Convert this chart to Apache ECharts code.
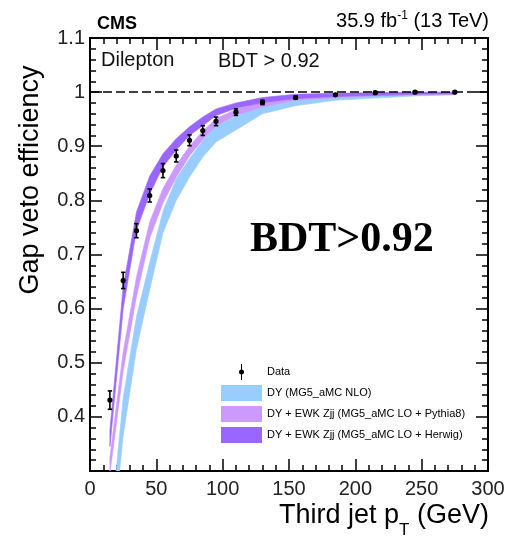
<!DOCTYPE html>
<html><head><meta charset="utf-8">
<script src="https://cdn.jsdelivr.net/npm/echarts@6/dist/echarts.min.js"></script>
<style>html,body{margin:0;padding:0;background:#fff}#c{width:508px;height:543px}</style>
</head><body><div id="c"></div>
<script>
// ---- data ----
const binCenters = [15, 25, 35, 45, 55, 65, 75, 85, 95, 110, 130, 155, 185, 215, 245, 275];
const dataEff = [0.431, 0.652, 0.744, 0.809, 0.855, 0.882, 0.911, 0.929, 0.946, 0.963, 0.981, 0.990, 0.995, 0.999, 1.000, 1.000];
const dataErr = [0.017, 0.015, 0.013, 0.012, 0.013, 0.011, 0.010, 0.009, 0.008, 0.006, 0.004, 0.003, 0.002, 0.002, 0.002, 0.002];
const dyNloLow  = [0.12, 0.365, 0.525, 0.635, 0.740, 0.800, 0.843, 0.880, 0.908, 0.930, 0.960, 0.975, 0.985, 0.989, 0.993, 0.995];
const dyNloHigh = [0.18, 0.435, 0.585, 0.685, 0.780, 0.840, 0.877, 0.910, 0.938, 0.955, 0.977, 0.988, 0.992, 0.995, 0.997, 0.999];
const pythiaLow  = [0.295, 0.485, 0.622, 0.730, 0.795, 0.843, 0.882, 0.912, 0.938, 0.957, 0.973, 0.985, 0.990, 0.993, 0.995, 0.996];
const pythiaHigh = [0.325, 0.520, 0.658, 0.760, 0.822, 0.865, 0.900, 0.928, 0.951, 0.968, 0.983, 0.993, 0.996, 0.998, 0.999, 0.999];
const herwigLow  = [0.345, 0.600, 0.745, 0.812, 0.862, 0.893, 0.920, 0.938, 0.957, 0.970, 0.981, 0.988, 0.992, 0.994, 0.996, 0.997];
const herwigHigh = [0.375, 0.640, 0.778, 0.845, 0.886, 0.914, 0.936, 0.954, 0.969, 0.980, 0.990, 0.996, 0.998, 0.999, 1.000, 1.000];
const seriesNames = ['Data', 'DY (MG5_aMC NLO)', 'DY + EWK Zjj (MG5_aMC LO + Pythia8)', 'DY + EWK Zjj (MG5_aMC LO + Herwig)'];
const bandColors = ['#99ccff', '#cc99ff', '#9966ff'];
const xRange = [0, 300, 50];
const yRange = [0.3, 1.1, 0.1];

// ---- chart ----
const chart = echarts.init(document.getElementById('c'), null, {renderer: 'canvas'});
const FONT = '"Liberation Sans", Arial, sans-serif';

function bandSeries(name, lo, hi, color, extra) {
  return Object.assign({
    name: name, type: 'custom', silent: true, z: 2,
    itemStyle: {color: color},
    encode: {x: 0, y: 1},
    data: [[binCenters[0], lo[0]]],
    renderItem: function (params, api) {
      const pts = [];
      for (let i = 0; i < binCenters.length; i++) pts.push(api.coord([binCenters[i], hi[i]]));
      for (let i = binCenters.length - 1; i >= 0; i--) pts.push(api.coord([binCenters[i], lo[i]]));
      const cs = params.coordSys;
      return {
        type: 'polygon', shape: {points: pts},
        style: {fill: color, stroke: color, lineWidth: 0.6},
        clipPath: {type: 'rect', shape: {x: cs.x, y: cs.y, width: cs.width, height: cs.height}}
      };
    }
  }, extra || {});
}

const axisLineStyle = {show: true, onZero: false, lineStyle: {color: '#000', width: 2}};
const tickStyle = {show: true, inside: true, length: 12, lineStyle: {color: '#000', width: 1.5}};
const minorStyle = {show: true, splitNumber: 5, length: 6, lineStyle: {color: '#000', width: 1.5}};

const option = {
  animation: false,
  backgroundColor: '#fff',
  grid: {left: 90, right: 20, top: 38, bottom: 72, containLabel: false, outerBoundsMode: 'none'},
  xAxis: [
    {type: 'value', position: 'bottom', min: xRange[0], max: xRange[1], interval: xRange[2],
     axisLine: axisLineStyle, axisTick: tickStyle, minorTick: minorStyle, splitLine: {show: false},
     axisLabel: {fontSize: 20, color: '#222', margin: 8, fontFamily: FONT}},
    {type: 'value', position: 'top', min: xRange[0], max: xRange[1], interval: xRange[2],
     axisLine: axisLineStyle, axisTick: tickStyle, minorTick: minorStyle, splitLine: {show: false},
     axisLabel: {show: false}}
  ],
  yAxis: [
    {type: 'value', position: 'left', min: yRange[0], max: yRange[1], interval: yRange[2],
     axisLine: axisLineStyle, axisTick: tickStyle, minorTick: minorStyle, splitLine: {show: false},
     axisLabel: {fontSize: 20, color: '#222', margin: 5, fontFamily: FONT,
       formatter: v => (Math.abs(v - 0.3) < 1e-6 ? '' : String(Math.round(v * 10) / 10))}},
    {type: 'value', position: 'right', min: yRange[0], max: yRange[1], interval: yRange[2],
     axisLine: axisLineStyle, axisTick: tickStyle, minorTick: minorStyle, splitLine: {show: false},
     axisLabel: {show: false}}
  ],
  legend: {
    orient: 'vertical', left: 221, top: 364, padding: 0, itemWidth: 41, itemHeight: 16, itemGap: 5,
    selectedMode: false, textStyle: {fontSize: 11, color: '#000', fontFamily: FONT},
    data: [
      {name: seriesNames[0], icon: 'path://M2,0 L3,0 L3,16 L2,16 Z M0,8 A2.5,2.5 0 1 1 5,8 A2.5,2.5 0 1 1 0,8 Z', itemStyle: {color: '#000'}},
      {name: seriesNames[1], icon: 'rect', itemStyle: {color: bandColors[0]}},
      {name: seriesNames[2], icon: 'rect', itemStyle: {color: bandColors[1]}},
      {name: seriesNames[3], icon: 'rect', itemStyle: {color: bandColors[2]}}
    ]
  },
  series: [
    bandSeries(seriesNames[1], dyNloLow, dyNloHigh, bandColors[0]),
    bandSeries(seriesNames[2], pythiaLow, pythiaHigh, bandColors[1]),
    bandSeries(seriesNames[3], herwigLow, herwigHigh, bandColors[2]),
    {
      name: seriesNames[0], type: 'custom', z: 5, itemStyle: {color: '#000'},
      encode: {x: 0, y: 1},
      data: binCenters.map((x, i) => [x, dataEff[i], dataErr[i]]),
      renderItem: function (params, api) {
        const x = api.value(0), y = api.value(1), e = api.value(2);
        const p = api.coord([x, y]);
        const lo = api.coord([x, y - e]);
        const hi = api.coord([x, y + e]);
        const cw = 2.2;
        const st = {stroke: '#000', lineWidth: 1.6};
        return {type: 'group', children: [
          {type: 'line', shape: {x1: lo[0], y1: lo[1], x2: hi[0], y2: hi[1]}, style: st},
          {type: 'line', shape: {x1: lo[0] - cw, y1: lo[1], x2: lo[0] + cw, y2: lo[1]}, style: st},
          {type: 'line', shape: {x1: hi[0] - cw, y1: hi[1], x2: hi[0] + cw, y2: hi[1]}, style: st},
          {type: 'circle', shape: {cx: p[0], cy: p[1], r: 2.6}, style: {fill: '#000'}}
        ]};
      }
    },
    {
      type: 'line', silent: true, z: 4, data: [], symbol: 'none',
      markLine: {silent: true, symbol: 'none', label: {show: false}, animation: false,
        lineStyle: {color: '#000', type: [9, 4], width: 1.5},
        data: [{yAxis: 1}]}
    }
  ],
  graphic: [
    {type: 'text', x: 97, y: 24, style: {text: 'CMS', fontSize: 18, fontWeight: 'bold', fontFamily: FONT, fill: '#000', align: 'left', verticalAlign: 'middle'}},
    {type: 'text', x: 489, y: 31.5, style: {
      text: '{a|35.9 fb}{s|-1}{a| (13 TeV)}', align: 'right', verticalAlign: 'bottom', fontFamily: FONT, fill: '#000',
      rich: {a: {fontSize: 20, lineHeight: 21.5, verticalAlign: 'bottom', fontFamily: FONT, fill: '#000'},
             s: {fontSize: 12, lineHeight: 12, verticalAlign: 'top', fontFamily: FONT, fill: '#000'}}}},
    {type: 'text', x: 101, y: 60, style: {text: 'Dilepton', fontSize: 20, fontFamily: FONT, fill: '#111', align: 'left', verticalAlign: 'middle'}},
    {type: 'text', x: 218, y: 61.5, style: {text: 'BDT > 0.92', fontSize: 20, fontFamily: FONT, fill: '#111', align: 'left', verticalAlign: 'middle'}},
    {type: 'text', x: 250, y: 240, z: 10, style: {text: 'BDT>0.92', fontSize: 42, fontWeight: 'bold', fontFamily: '"Liberation Serif", "Times New Roman", serif', fill: '#000', align: 'left', verticalAlign: 'middle'}},
    {type: 'text', x: 31, y: 180, rotation: Math.PI / 2, style: {text: 'Gap veto efficiency', fontSize: 27, fontFamily: FONT, fill: '#000', align: 'center', verticalAlign: 'middle'}},
    {type: 'text', x: 489, y: 502.5, style: {
      text: '{a|Third jet p}{t|T}{a| (GeV)}', align: 'right', verticalAlign: 'top', fontFamily: FONT, fill: '#000',
      rich: {a: {fontSize: 27, lineHeight: 36, verticalAlign: 'top', fontFamily: FONT, fill: '#000'},
             t: {fontSize: 17, lineHeight: 17, verticalAlign: 'bottom', fontFamily: FONT, fill: '#000'}}}}
  ]
};
chart.setOption(option);
</script>
</body></html>
